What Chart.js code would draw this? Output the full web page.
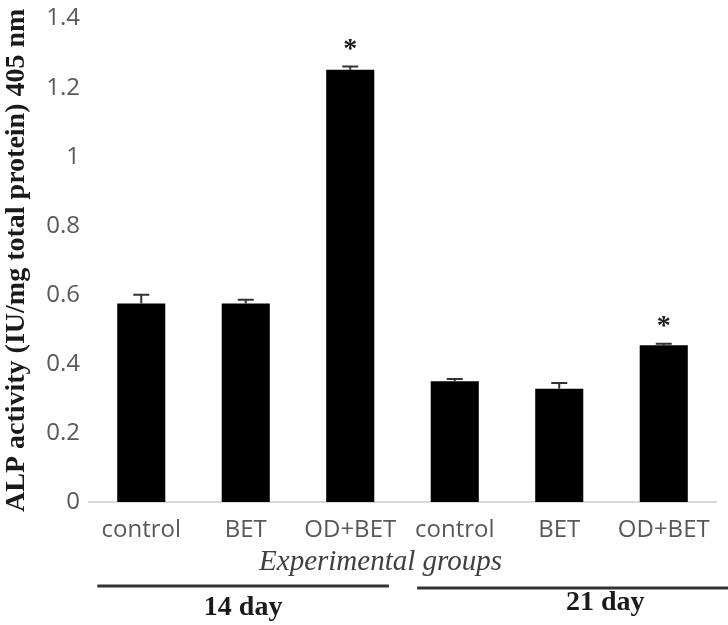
<!DOCTYPE html>
<html>
<head>
<meta charset="utf-8">
<script src="https://cdn.jsdelivr.net/npm/chart.js@4/dist/chart.umd.min.js"></script>
<style>
  html, body { margin: 0; padding: 0; background: #ffffff; }
  #wrap { width: 728px; height: 625px; position: relative; }
</style>
</head>
<body>
<div id="wrap"><canvas id="c" width="728" height="625"></canvas></div>
<script>
// ---- data ----
const categories = ['control', 'BET', 'OD+BET', 'control', 'BET', 'OD+BET'];
const alpValues  = [0.575, 0.575, 1.252, 0.350, 0.328, 0.454];
const alpErrors  = [0.025, 0.011, 0.009, 0.006, 0.017, 0.004];
const significant = [false, false, true, false, false, true];
const groupLabels = ['14 day', '21 day'];
const yTicks = [0, 0.2, 0.4, 0.6, 0.8, 1, 1.2, 1.4];
const yTitle = 'ALP activity (IU/mg total protein) 405 nm';
const xTitle = 'Experimental groups';

const SERIF = "'Liberation Serif', 'DejaVu Serif', serif";
const SANS = "'Open Sans', 'Liberation Sans', sans-serif";

const annotations = {
  id: 'annotations',
  afterDatasetsDraw(chart) {
    const ctx = chart.ctx;
    const meta = chart.getDatasetMeta(0);
    const ys = chart.scales.y;
    ctx.save();
    meta.data.forEach((bar, i) => {
      const top = ys.getPixelForValue(alpValues[i] + alpErrors[i]);
      const base = ys.getPixelForValue(alpValues[i]);
      ctx.strokeStyle = '#333333';
      ctx.lineWidth = 2;
      ctx.beginPath();
      ctx.moveTo(bar.x, base);
      ctx.lineTo(bar.x, top);
      ctx.moveTo(bar.x - 8, top);
      ctx.lineTo(bar.x + 8, top);
      ctx.stroke();
      if (significant[i]) {
        ctx.fillStyle = '#1a1a1a';
        ctx.font = 'bold 28px ' + SERIF;
        ctx.textAlign = 'center';
        ctx.textBaseline = 'middle';
        ctx.fillText('*', bar.x, top - 17);
      }
    });
    ctx.restore();
  },
  afterDraw(chart) {
    const ctx = chart.ctx;
    const xs = chart.scales.x;
    const w = xs.width / categories.length;
    ctx.save();
    // x axis title
    ctx.fillStyle = '#404040';
    ctx.font = 'italic 29px ' + SERIF;
    ctx.textAlign = 'center';
    ctx.textBaseline = 'middle';
    ctx.fillText(xTitle, xs.left + 0.465 * xs.width, 562);
    // group lines
    ctx.strokeStyle = '#333333';
    ctx.lineWidth = 3;
    const a0 = xs.getPixelForValue(0) - 0.42 * w;
    const a1 = xs.getPixelForValue(2) + 0.37 * w;
    const b0 = xs.getPixelForValue(3) - 0.36 * w;
    const b1 = chart.width;
    ctx.beginPath();
    ctx.moveTo(a0, 586); ctx.lineTo(a1, 586);
    ctx.moveTo(b0, 588); ctx.lineTo(b1, 588);
    ctx.stroke();
    // group labels
    ctx.fillStyle = '#1a1a1a';
    ctx.font = 'bold 28px ' + SERIF;
    ctx.fillText(groupLabels[0], (a0 + a1) / 2, 608);
    ctx.fillText(groupLabels[1], xs.getPixelForValue(4) + 0.44 * w, 603);
    ctx.restore();
  }
};

new Chart(document.getElementById('c'), {
  type: 'bar',
  data: {
    labels: categories,
    datasets: [{
      data: alpValues,
      backgroundColor: '#000000',
      borderWidth: 0,
      barPercentage: 0.46,
      categoryPercentage: 1.0
    }]
  },
  options: {
    responsive: false,
    animation: false,
    devicePixelRatio: 1,
    layout: { padding: { top: 15, right: 12, bottom: 0, left: 0 } },
    plugins: { legend: { display: false }, tooltip: { enabled: false } },
    scales: {
      x: {
        grid: { display: false, drawTicks: false },
        border: { display: true, color: '#d9d9d9', width: 2 },
        ticks: { color: '#595959', font: { family: SANS, size: 24 }, padding: 14, maxRotation: 0, autoSkip: false },
        afterFit(scale) { scale.height = 123; }
      },
      y: {
        min: 0, max: 1.4,
        afterBuildTicks(scale) { scale.ticks = yTicks.map(v => ({ value: v })); },
        grid: { display: false, drawTicks: false },
        border: { display: false },
        ticks: {
          color: '#595959', font: { family: SANS, size: 24, lineHeight: 0.8 }, padding: 9,
          callback: (v) => String(+v.toFixed(1))
        },
        title: {
          display: true, text: yTitle, color: '#1a1a1a',
          font: { family: SERIF, size: 28, weight: 'bold' },
          padding: { top: 0, bottom: 0 }
        },
        afterFit(scale) { scale.width = 89; }
      }
    }
  },
  plugins: [annotations]
});
</script>
</body>
</html>
